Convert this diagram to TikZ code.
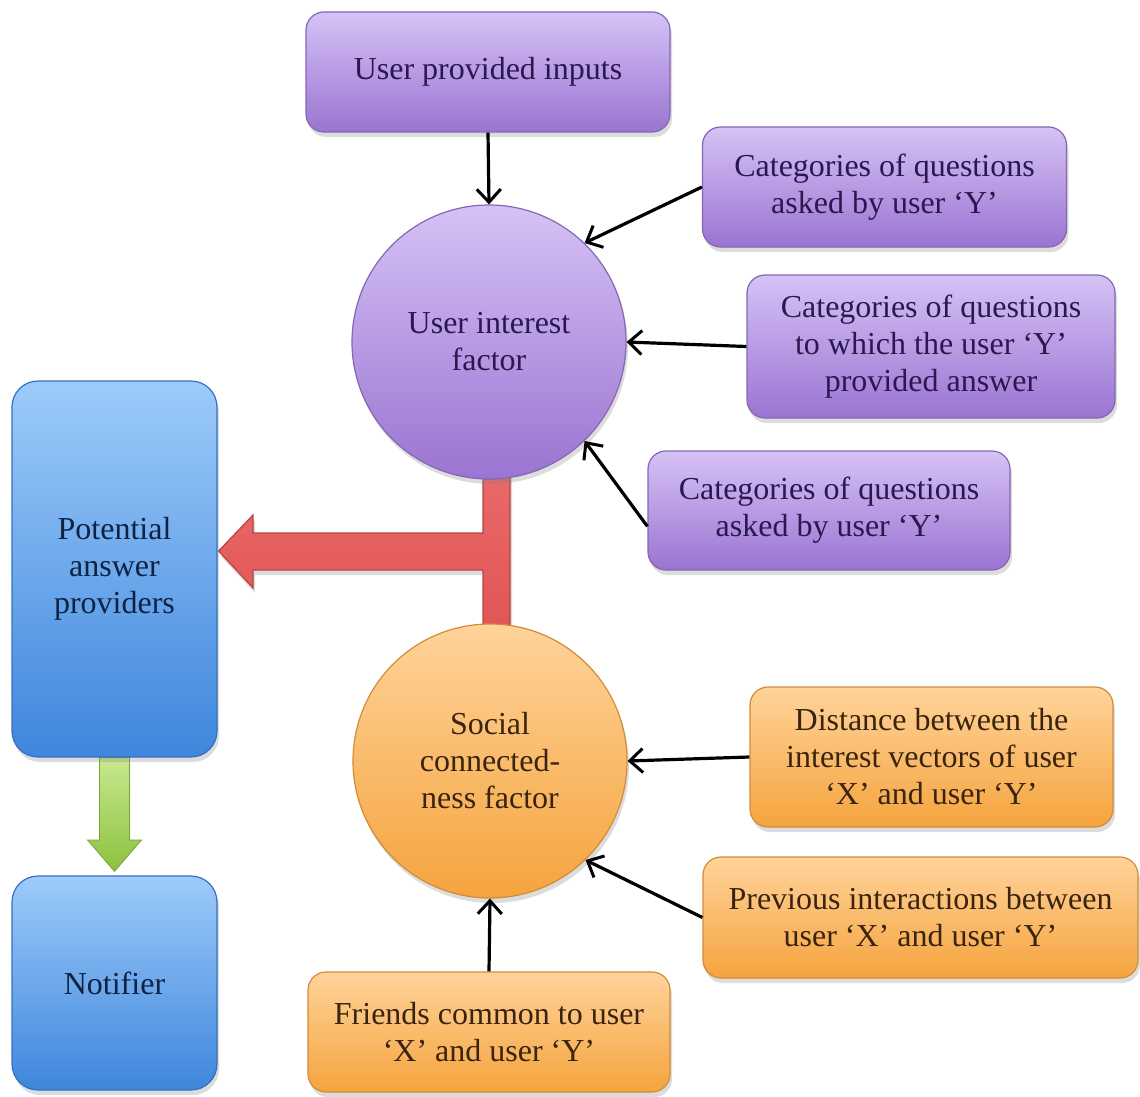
\documentclass[tikz,border=0pt]{standalone}
\usepackage{fontspec}
\setmainfont{Liberation Serif}
\usetikzlibrary{arrows.meta,shadows,backgrounds,calc}
\definecolor{pTop}{HTML}{D6C2F5}
\definecolor{pBot}{HTML}{9A74D2}
\definecolor{pBrd}{HTML}{8466B4}
\definecolor{pTxt}{HTML}{2C1850}
\definecolor{oTop}{HTML}{FFD39A}
\definecolor{oBot}{HTML}{F5A43E}
\definecolor{oBrd}{HTML}{D18C36}
\definecolor{oTxt}{HTML}{3A2410}
\definecolor{bTop}{HTML}{9DCBFA}
\definecolor{bBot}{HTML}{3E86DC}
\definecolor{bBrd}{HTML}{3570C0}
\definecolor{bTxt}{HTML}{0E2244}
\definecolor{rTop}{HTML}{F27A7A}
\definecolor{rBot}{HTML}{D94444}
\definecolor{rBrd}{HTML}{B84444}
\definecolor{gTop}{HTML}{C8E88E}
\definecolor{gBot}{HTML}{8CC23E}
\tikzset{
  shade/.style={drop shadow={opacity=0.28,shadow xshift=1pt,shadow yshift=-2.5pt}},
  txt/.style={font=\fontsize{16}{18.5}\selectfont, align=center, inner sep=0pt},
  pbox/.style={txt, shade, rectangle, rounded corners=9pt, draw=pBrd, line width=0.6pt,
    top color=pTop, bottom color=pBot, text=pTxt},
  obox/.style={txt, shade, rectangle, rounded corners=9pt, draw=oBrd, line width=0.6pt,
    top color=oTop, bottom color=oBot, text=oTxt},
  bbox/.style={txt, shade, rectangle, rounded corners=13pt, draw=bBrd, line width=0.6pt,
    top color=bTop, bottom color=bBot, text=bTxt, minimum width=102.5pt},
  pcirc/.style={txt, shade, circle, minimum size=137pt, draw=pBrd, line width=0.6pt,
    top color=pTop, bottom color=pBot, text=pTxt},
  ocirc/.style={txt, shade, circle, minimum size=137pt, draw=oBrd, line width=0.6pt,
    top color=oTop, bottom color=oBot, text=oTxt},
  link/.style={line width=1.6pt, black, -{Straight Barb[length=6.5pt,width=12pt,line width=1.5pt]}},
}
\begin{document}
\begin{tikzpicture}[x=0.5pt,y=-0.5pt]
\useasboundingbox (0,0) rectangle (1140,1097);
% nodes
\node[pbox, minimum width=182pt, minimum height=60pt] (upi) at (488,72) {\raisebox{-1.5pt}{User provided inputs}};
\node[pcirc] (uif) at (489,342) {User interest\\factor};
\node[pbox, minimum width=182pt, minimum height=60pt] (c1) at (884.5,187) {Categories of questions\\asked by user ‘Y’};
\node[pbox, minimum width=184pt, minimum height=71.5pt] (c2) at (931,346.5) {Categories of questions\\to which the user ‘Y’\\provided answer};
\node[pbox, minimum width=181pt, minimum height=59.5pt] (c3) at (829,510.5) {Categories of questions\\asked by user ‘Y’};
\node[bbox, minimum height=188pt] (pap) at (114.5,569) {Potential\\answer\\providers};
\node[bbox, minimum height=107pt] (nt) at (114.5,983) {\raisebox{-1.5pt}{Notifier}};
\node[ocirc] (scf) at (490,761) {Social\\connected-\\ness factor};
\node[obox, minimum width=181.5pt, minimum height=70pt] (d1) at (931.5,757) {Distance between the\\interest vectors of user\\‘X’ and user ‘Y’};
\node[obox, minimum width=217.5pt, minimum height=60.5pt] (d2) at (920.5,917.5) {Previous interactions between\\user ‘X’ and user ‘Y’};
\node[obox, minimum width=181pt, minimum height=60pt] (d3) at (489,1032) {Friends common to user\\‘X’ and user ‘Y’};

% block arrows behind the nodes
\begin{scope}[on background layer]
  \path[draw=rBrd, line width=0.6pt, top color=rTop, bottom color=rBot, shade]
    ($(uif.center)+(-6,0)$) -- ($(uif.center)+(21,0)$) --
    ($(scf.center)+(20,0)$) -- ($(scf.center)+(-7,0)$) --
    ($(scf.center)+(-7,-191)$) -- (253,570) -- (253,588) -- ($(pap.east)+(1,-18)$) --
    (253,515) -- (253,533) -- ($(uif.center)+(-6,191)$) -- cycle;
  \path[draw=gBot!85!black, line width=0.4pt, top color=gTop, bottom color=gBot]
    ($(pap.south)+(-15,0)$) -- ($(pap.south)+(15,0)$) -- (129.5,840) -- (141.5,840) --
    ($(nt.north)+(0,-4)$) -- (87.5,840) -- (99.5,840) -- cycle;
\end{scope}

% connectors
\draw[link] (upi.south) -- (uif.north);
\draw[link] (c1.west) -- (uif.46);
\draw[link] (c2.west) -- (uif.east);
\draw[link] (c3.185) -- (uif.-46);
\draw[link] (d1.west) -- (scf.east);
\draw[link] (d2.west) -- (scf.-46);
\draw[link] (d3.north) -- (scf.south);
\end{tikzpicture}
\end{document}
